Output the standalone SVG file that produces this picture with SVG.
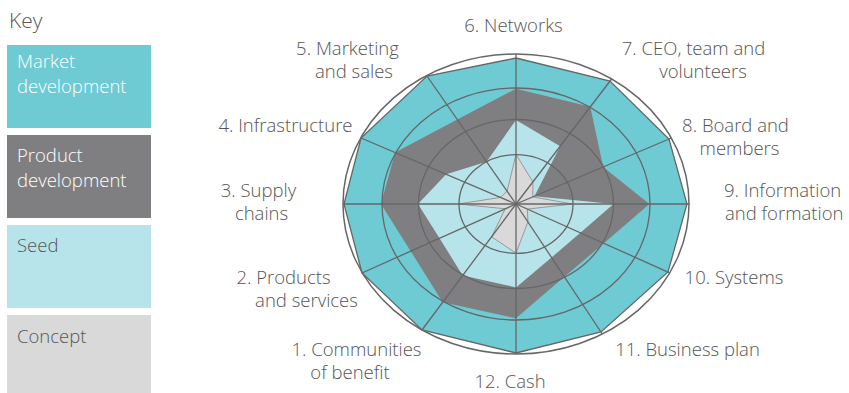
<svg xmlns="http://www.w3.org/2000/svg" width="849" height="393" viewBox="0 0 849 393">
<style>
.lbl{font-family:"Open Sans","Liberation Sans",sans-serif;font-size:18.5px;font-weight:300;fill:#555555}
.key{font-family:"Open Sans","Liberation Sans",sans-serif;font-size:18.5px;font-weight:300}
.w{fill:#ffffff}
.g{fill:#555555}
.grid{fill:none;stroke:#666666;stroke-width:1.3}
.axis{stroke:#666666;stroke-width:1.3}
</style>
<rect width="849" height="393" fill="#ffffff"/>
<g id="key">
  <text class="key g" x="9" y="28" style="font-size:21px">Key</text>
  <g id="key-market">
    <rect x="7" y="45" width="144" height="83" fill="#6ecad3"/>
    <text class="key w" x="17" y="68">Market</text>
    <text class="key w" x="17" y="93">development</text>
  </g>
  <g id="key-product">
    <rect x="7" y="135" width="144" height="83" fill="#7f7f81"/>
    <text class="key w" x="17" y="162">Product</text>
    <text class="key w" x="17" y="187">development</text>
  </g>
  <g id="key-seed">
    <rect x="7" y="225" width="144" height="83" fill="#b7e4ea"/>
    <text class="key g" x="17" y="252">Seed</text>
  </g>
  <g id="key-concept">
    <rect x="7" y="315" width="144" height="78" fill="#d9d9d9"/>
    <text class="key g" x="17" y="343">Concept</text>
  </g>
</g>
<g id="chart">
  <polygon id="market" fill="#6ecad3" stroke="#666666" stroke-width="1.3" points="516,58 610,81 669,139 687,204 668,272 601,332 516,353 422,330 362,273 344,204 361,138 427,76"/>
  <polygon id="product" fill="#7f7f81" points="516,88.7 590.3,106.8 603.2,166.9 649.4,204 603.9,243.3 564.4,276.8 516,318.3 442.7,302.3 410.7,251.2 381,204 395.1,152.5 457.3,119.5"/>
  <polygon id="seed" fill="#b7e4ea" points="516,120 560.2,146.2 534.4,196.2 613.5,204 580.4,232.8 551.5,257.5 516,287.4 462.7,275.4 439.5,238.3 418,204 446.2,174.3 486.6,161.8"/>
  <polygon id="concept" fill="#d9d9d9" stroke="#888888" stroke-width="0.8" points="516,154.4 532.9,181.9 532.8,196.9 572.4,204 527.4,209.1 527.9,221.9 516,253.2 491.6,236.8 505.2,208.8 458.4,204 500.5,197.4 507.1,191.2"/>
  <g id="grid">
    <ellipse class="grid" cx="516" cy="204" rx="57" ry="49.4"/>
    <ellipse class="grid" cx="516" cy="204" rx="97.5" ry="84.5"/>
    <ellipse class="grid" cx="516" cy="204" rx="134" ry="116"/>
    <ellipse class="grid" cx="516" cy="204" rx="173" ry="150" style="stroke-width:1.5"/>
  </g>
  <g id="connectors">
    <line class="axis" x1="516" y1="204" x2="516" y2="54"/>
    <line class="axis" x1="516" y1="204" x2="611.6" y2="79"/>
    <line class="axis" x1="516" y1="204" x2="671.4" y2="138"/>
    <line class="axis" x1="516" y1="204" x2="689" y2="204"/>
    <line class="axis" x1="516" y1="204" x2="669.7" y2="272.8"/>
    <line class="axis" x1="516" y1="204" x2="602.3" y2="334"/>
    <line class="axis" x1="516" y1="204" x2="516" y2="354"/>
    <line class="axis" x1="516" y1="204" x2="422" y2="330"/>
    <line class="axis" x1="516" y1="204" x2="362" y2="273"/>
    <line class="axis" x1="516" y1="204" x2="343" y2="204"/>
    <line class="axis" x1="516" y1="204" x2="361" y2="138"/>
    <line class="axis" x1="516" y1="204" x2="427" y2="76"/>
  </g>
</g>
<g id="labels" text-anchor="middle">
  <text class="lbl" x="513.5" y="32">6. Networks</text>
  <text class="lbl" x="347.5" y="54.5">5. Marketing</text>
  <text class="lbl" x="354" y="77.5">and sales</text>
  <text class="lbl" x="693.5" y="54.5">7. CEO, team and</text>
  <text class="lbl" x="703" y="77.5">volunteers</text>
  <text class="lbl" x="735.5" y="131.5">8. Board and</text>
  <text class="lbl" x="739.5" y="154.5">members</text>
  <text class="lbl" x="724" y="196.5" text-anchor="start">9. Information</text>
  <text class="lbl" x="725" y="219.5" text-anchor="start">and formation</text>
  <text class="lbl" x="734" y="283.5">10. Systems</text>
  <text class="lbl" x="687.5" y="355.5">11. Business plan</text>
  <text class="lbl" x="510" y="388">12. Cash</text>
  <text class="lbl" x="356.5" y="355.5">1. Communities</text>
  <text class="lbl" x="350" y="378.5">of benefit</text>
  <text class="lbl" x="283.5" y="283.5">2. Products</text>
  <text class="lbl" x="306.5" y="306.5">and services</text>
  <text class="lbl" x="258.5" y="196.5">3. Supply</text>
  <text class="lbl" x="261.5" y="219.5">chains</text>
  <text class="lbl" x="285.5" y="131.5">4. Infrastructure</text>
</g>
</svg>
